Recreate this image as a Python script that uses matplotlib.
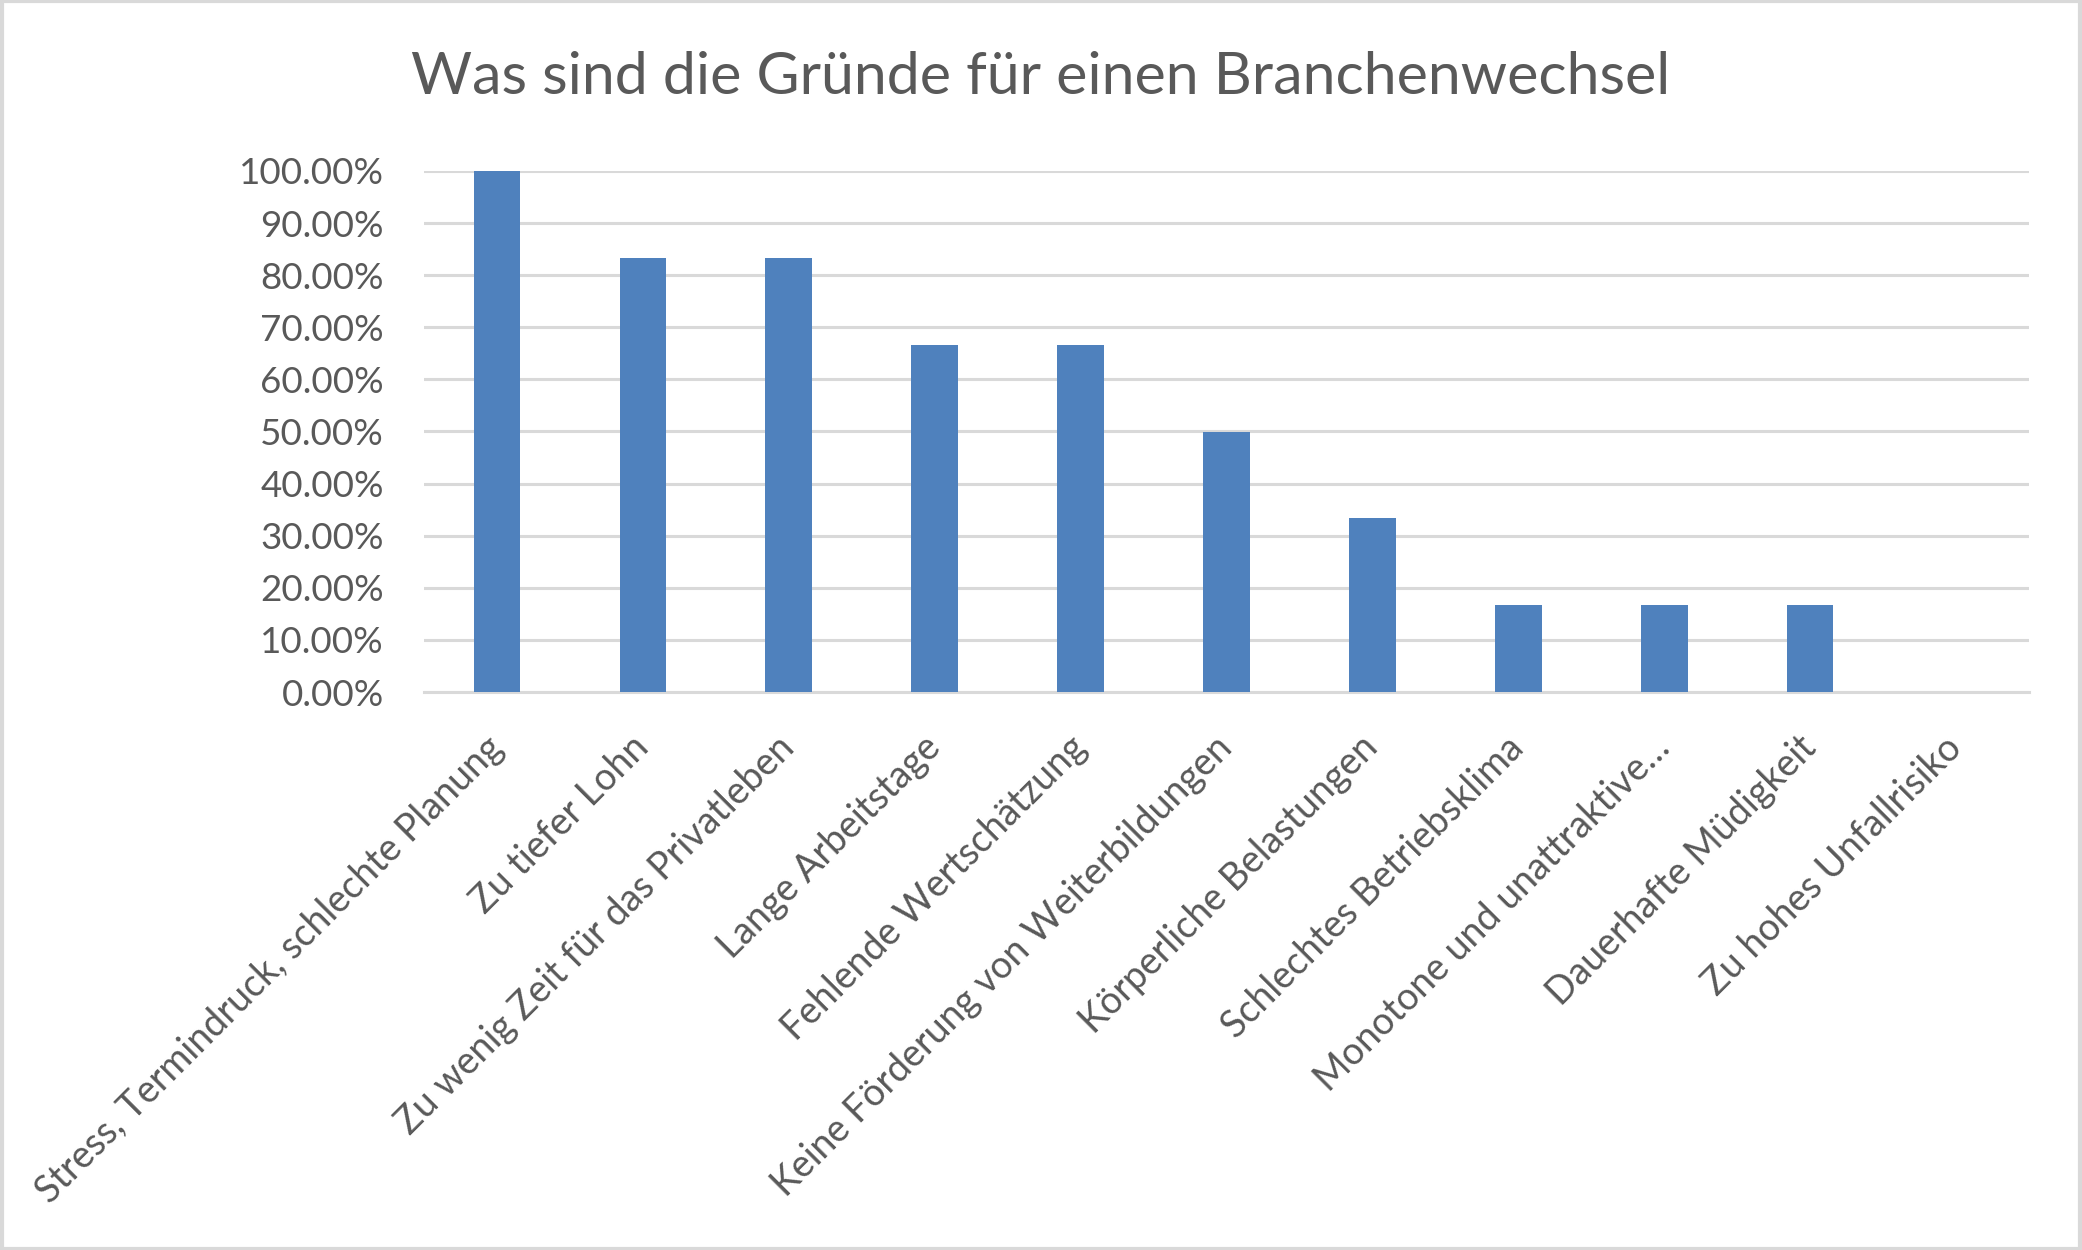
import matplotlib
matplotlib.use("Agg")
import matplotlib.pyplot as plt
from matplotlib.patches import Rectangle
from matplotlib.ticker import MultipleLocator, FuncFormatter

categories = [
    "Stress, Termindruck, schlechte Planung",
    "Zu tiefer Lohn",
    "Zu wenig Zeit für das Privatleben",
    "Lange Arbeitstage",
    "Fehlende Wertschätzung",
    "Keine Förderung von Weiterbildungen",
    "Körperliche Belastungen",
    "Schlechtes Betriebsklima",
    "Monotone und unattraktive…",
    "Dauerhafte Müdigkeit",
    "Zu hohes Unfallrisiko",
]
values = [1.0, 0.8333, 0.8333, 0.6667, 0.6667, 0.5, 0.3333, 0.1667, 0.1667, 0.1667, 0.0]
title = "Was sind die Gründe für einen Branchenwechsel"

W, H = 2082, 1250
plt.rcParams['font.family'] = ['Lato', 'DejaVu Sans']
fig = plt.figure(figsize=(W / 100, H / 100), dpi=100)
ax = fig.add_axes([424 / W, 1 - 692 / H, (2029 - 424) / W, (692 - 171) / H])

text_color = "#595959"
ax.bar(range(len(values)), values, width=0.32, color="#4F81BD", zorder=3)
ax.set_xlim(-0.5, len(values) - 0.5)
ax.set_ylim(0, 1.0)
ax.yaxis.set_major_locator(MultipleLocator(0.1))
ax.yaxis.set_major_formatter(FuncFormatter(lambda v, p: f"{v*100:.2f}%"))
ax.grid(axis='y', color="#D9D9D9", linewidth=2.2, zorder=0)
ax.set_axisbelow(True)
for s in ['top', 'right', 'left']:
    ax.spines[s].set_visible(False)
ax.spines['bottom'].set_color("#D9D9D9")
ax.spines['bottom'].set_linewidth(2.2)
ax.tick_params(axis='y', length=0, pad=29, labelsize=26.5, labelcolor=text_color)
ax.tick_params(axis='x', length=0, pad=36)
ax.set_xticks(range(len(values)))
ax.set_xticklabels(categories, rotation=45, ha='right', va='center',
                   rotation_mode='anchor', fontsize=27, color=text_color)

fig.text(1041 / W, 1 - 77 / H, title, ha='center', va='center',
         fontsize=42.5, color=text_color)

fig.patches.append(Rectangle((0.001, 0.001), 0.998, 0.998, transform=fig.transFigure,
                             fill=False, edgecolor="#D9D9D9", linewidth=3))

fig.savefig("out.png", dpi=100, facecolor="white")
